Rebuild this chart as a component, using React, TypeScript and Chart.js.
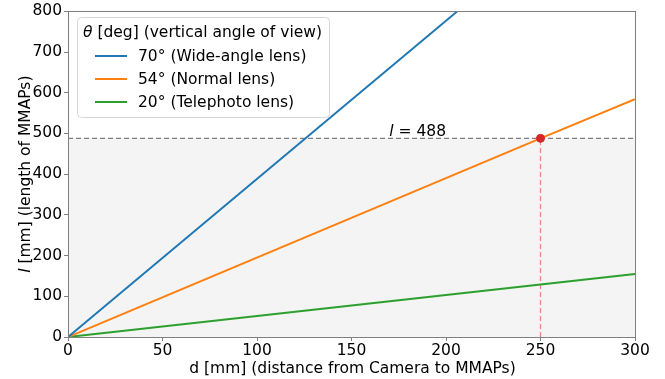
import React, { useEffect, useRef } from "react";
import { Chart, registerables } from "chart.js";

Chart.register(...registerables);

const xWide = [0, 206];
const yWide = [0, 800];
const xNormal = [0, 250, 300];
const yNormal = [0, 488, 584];
const xTele = [0, 250, 300];
const yTele = [0, 129, 155];
const seriesLabels = ["70° (Wide-angle lens)", "54° (Normal lens)", "20° (Telephoto lens)"];
const seriesColors = ["#1f77b4", "#ff7f0e", "#2ca02c"];
const markD = 250;
const markL = 488;
const xRange = [0, 300];
const yRange = [0, 800];
const legendTitleItalic = "θ";
const legendTitleRest = " [deg] (vertical angle of view)";
const xTitle = "d [mm] (distance from Camera to MMAPs)";
const yTitleItalic = "l";
const yTitleRest = " [mm] (length of MMAPs)";

const FS = 15.5;
const FONT = `${FS}px 'DejaVu Sans'`;
const IFONT = `italic ${FS}px 'DejaVu Sans'`;

const pts = (xs: number[], ys: number[]) => xs.map((x, i) => ({ x, y: ys[i] }));

const overlay = {
  id: "overlay",
  afterDraw(chart: any) {
    const { ctx, chartArea: ca, scales } = chart;
    const xs = scales.x;
    const ys = scales.y;
    ctx.save();
    // frame
    ctx.strokeStyle = "#808080";
    ctx.lineWidth = 1;
    ctx.strokeRect(Math.round(ca.left) + 0.5, Math.round(ca.top) + 0.5, Math.round(ca.right - ca.left), Math.round(ca.bottom - ca.top));

    ctx.fillStyle = "#000";
    ctx.textBaseline = "alphabetic";
    // annotation
    const ax = xs.getPixelForValue(170);
    const ay = ys.getPixelForValue(markL) - 2;
    ctx.font = IFONT;
    ctx.textAlign = "left";
    ctx.fillText("l", ax, ay);
    const lw = ctx.measureText("l").width;
    ctx.font = FONT;
    ctx.fillText(" = " + markL, ax + lw, ay);

    // x title
    ctx.textAlign = "center";
    ctx.font = FONT;
    ctx.fillText(xTitle, (ca.left + ca.right) / 2 + 1, 373);

    // y title
    ctx.save();
    ctx.translate(30, (ca.top + ca.bottom) / 2);
    ctx.rotate(-Math.PI / 2);
    ctx.font = IFONT;
    const w1 = ctx.measureText(yTitleItalic).width;
    ctx.font = FONT;
    const w2 = ctx.measureText(yTitleRest).width;
    const start = -(w1 + w2) / 2;
    ctx.textAlign = "left";
    ctx.font = IFONT;
    ctx.fillText(yTitleItalic, start, 0);
    ctx.font = FONT;
    ctx.fillText(yTitleRest, start + w1, 0);
    ctx.restore();

    // legend
    const bx = 77, by = 17, bw = 252, bh = 100;
    ctx.beginPath();
    ctx.roundRect(bx + 0.5, by + 0.5, bw, bh, 4);
    ctx.fillStyle = "rgba(255,255,255,0.85)";
    ctx.fill();
    ctx.strokeStyle = "#d6d6d6";
    ctx.lineWidth = 1;
    ctx.stroke();
    ctx.fillStyle = "#000";
    ctx.textAlign = "left";
    ctx.textBaseline = "middle";
    ctx.font = IFONT;
    ctx.fillText(legendTitleItalic, 83, 33);
    const tw = ctx.measureText(legendTitleItalic).width;
    ctx.font = FONT;
    ctx.fillText(legendTitleRest, 83 + tw, 33);
    const rowY = [56, 79, 102];
    seriesLabels.forEach((lab, i) => {
      ctx.strokeStyle = seriesColors[i];
      ctx.lineWidth = 2;
      ctx.beginPath();
      ctx.moveTo(95, rowY[i]);
      ctx.lineTo(127, rowY[i]);
      ctx.stroke();
      ctx.fillStyle = "#000";
      ctx.fillText(lab, 138, rowY[i] + 1);
    });
    ctx.restore();
  },
};

export default function App() {
  const ref = useRef<HTMLCanvasElement>(null);
  useEffect(() => {
    const chart = new Chart(ref.current!, {
      type: "scatter",
      data: {
        datasets: [
          {
            label: "threshold",
            data: pts(xRange, [markL, markL]),
            showLine: true,
            borderColor: "#808080",
            borderWidth: 1.2,
            borderDash: [5, 3],
            backgroundColor: "#f4f4f4",
            fill: "origin",
            pointRadius: 0,
            order: 10,
          },
          {
            label: "vertical",
            data: pts([markD, markD], [0, markL]),
            showLine: true,
            borderColor: "rgba(240,80,80,0.7)",
            borderWidth: 1.2,
            borderDash: [5, 3],
            pointRadius: 0,
            order: 9,
          },
          {
            label: seriesLabels[0],
            data: pts(xWide, yWide),
            showLine: true,
            borderColor: seriesColors[0],
            borderWidth: 2,
            pointRadius: 0,
            order: 3,
          },
          {
            label: seriesLabels[1],
            data: pts(xNormal, yNormal),
            showLine: true,
            borderColor: seriesColors[1],
            borderWidth: 2,
            pointRadius: 0,
            order: 3,
          },
          {
            label: seriesLabels[2],
            data: pts(xTele, yTele),
            showLine: true,
            borderColor: seriesColors[2],
            borderWidth: 2,
            pointRadius: 0,
            order: 3,
          },
          {
            label: "mark",
            data: pts([markD], [markL]),
            showLine: false,
            pointRadius: 4,
            pointBackgroundColor: "#d62728",
            pointBorderColor: "#d62728",
            order: 1,
          },
        ],
      },
      options: {
        animation: false,
        responsive: false,
        maintainAspectRatio: false,
        layout: { padding: { top: 11, right: 30, left: 0, bottom: 0 } },
        plugins: { legend: { display: false }, tooltip: { enabled: false } },
        scales: {
          x: {
            type: "linear",
            min: xRange[0],
            max: xRange[1],
            ticks: { stepSize: 50, autoSkip: false, maxRotation: 0, color: "#000", font: { family: "'DejaVu Sans'", size: FS }, padding: 1 },
            grid: { drawOnChartArea: false, drawTicks: true, tickLength: 4, color: "#808080" },
            border: { display: true, color: "#808080" },
            afterFit: (s: any) => { s.height = 42; },
          },
          y: {
            type: "linear",
            min: yRange[0],
            max: yRange[1],
            ticks: { stepSize: 100, autoSkip: false, color: "#000", font: { family: "'DejaVu Sans'", size: FS }, padding: 2 },
            grid: { drawOnChartArea: false, drawTicks: true, tickLength: 4, color: "#808080" },
            border: { display: true, color: "#808080" },
            afterFit: (s: any) => { s.width = 68; },
          },
        },
      },
      plugins: [overlay],
    } as any);
    return () => chart.destroy();
  }, []);
  return (
    <div style={{ position: "fixed", left: 0, top: 0, width: 665, height: 379, background: "#fff" }}>
      <canvas ref={ref} width={665} height={379} style={{ width: 665, height: 379, display: "block" }} />
    </div>
  );
}
